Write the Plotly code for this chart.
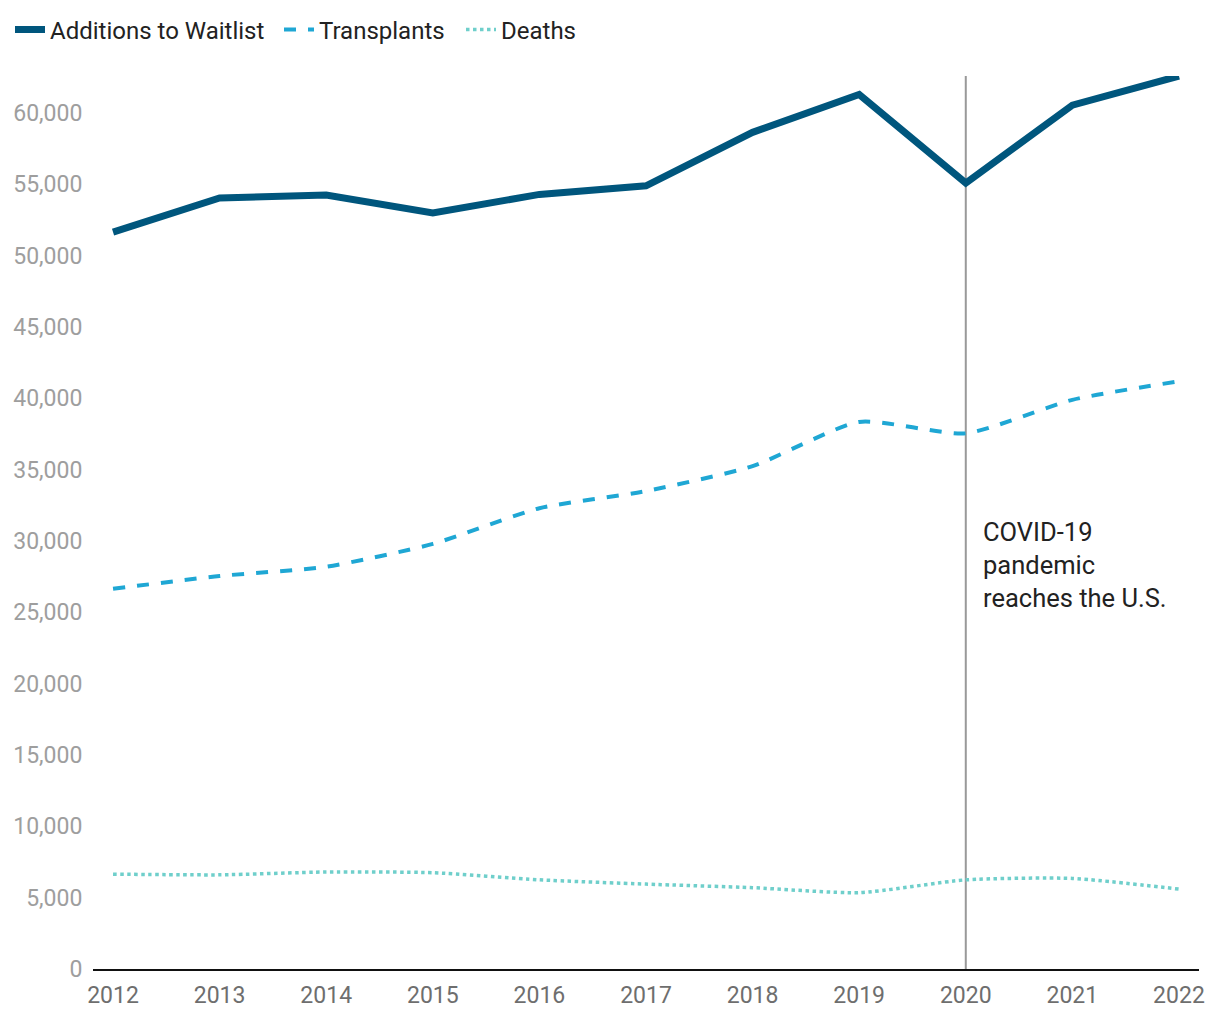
import plotly.graph_objects as go

years = [2012, 2013, 2014, 2015, 2016, 2017, 2018, 2019, 2020, 2021, 2022]
additions = [51650, 54050, 54250, 53000, 54300, 54900, 58650, 61300, 55100, 60550, 62600]
transplants = [26650, 27550, 28200, 29800, 32300, 33500, 35250, 38350, 37550, 39900, 41200]
deaths = [6650, 6600, 6800, 6750, 6250, 5950, 5700, 5350, 6250, 6350, 5600]
ytick_vals = list(range(0, 60001, 5000))
annotation_text = "COVID-19<br>pandemic<br>reaches the U.S."

FONT = "Roboto"

fig = go.Figure()
fig.add_trace(go.Scatter(x=years, y=additions, mode="lines", name="Additions to Waitlist",
                         legend="legend",
                         line=dict(color="#00567d", width=7)))
fig.add_trace(go.Scatter(x=years, y=transplants, mode="lines", name="Transplants",
                         legend="legend2",
                         line=dict(color="#1fa7d4", width=4, dash="dash", shape="spline", smoothing=0.6)))
fig.add_trace(go.Scatter(x=years, y=deaths, mode="lines", name="Deaths",
                         legend="legend3",
                         line=dict(color="#6fcfcb", width=3.5, dash="dot", shape="spline", smoothing=0.6)))

fig.add_shape(type="line", x0=2020, x1=2020, xref="x", y0=0, y1=1, yref="paper",
              line=dict(color="#999999", width=2), layer="below")

fig.add_annotation(x=2020.14, y=31850, xref="x", yref="y", text=annotation_text,
                   showarrow=False, xanchor="left", yanchor="top", align="left",
                   font=dict(family=FONT, size=25.5, color="#222222"))


def legend_at(px):
    return dict(orientation="h", xref="container", yref="container",
                x=px / 1220, xanchor="left", y=1 - 30 / 1020, yanchor="middle",
                font=dict(family=FONT, size=24, color="#222222"),
                itemwidth=30, bgcolor="rgba(0,0,0,0)")


fig.update_layout(
    width=1220, height=1020,
    margin=dict(l=93, r=21, t=76, b=51, autoexpand=False),
    paper_bgcolor="white", plot_bgcolor="white",
    font=dict(family=FONT),
    showlegend=True,
    legend=legend_at(10),
    legend2=legend_at(279),
    legend3=legend_at(461),
    xaxis=dict(range=[2011.812, 2022.188], tickmode="array", tickvals=years,
               ticktext=[str(y) for y in years], showgrid=False, zeroline=False,
               showline=True, linecolor="#111111", linewidth=2, automargin=False,
               ticks="outside", ticklen=4, tickcolor="rgba(0,0,0,0)",
               tickfont=dict(family=FONT, size=23, color="#6e6e6e")),
    yaxis=dict(range=[0, 62600], tickmode="array", tickvals=ytick_vals,
               ticktext=[f"{v:,}" for v in ytick_vals], showgrid=False, zeroline=False,
               showline=False, automargin=False, ticks="outside", ticklen=5,
               tickcolor="rgba(0,0,0,0)",
               tickfont=dict(family=FONT, size=23, color="#9e9e9e")),
)

fig.write_html("out.html", config={"displayModeBar": False},
               post_script="document.body.style.margin='0';")
